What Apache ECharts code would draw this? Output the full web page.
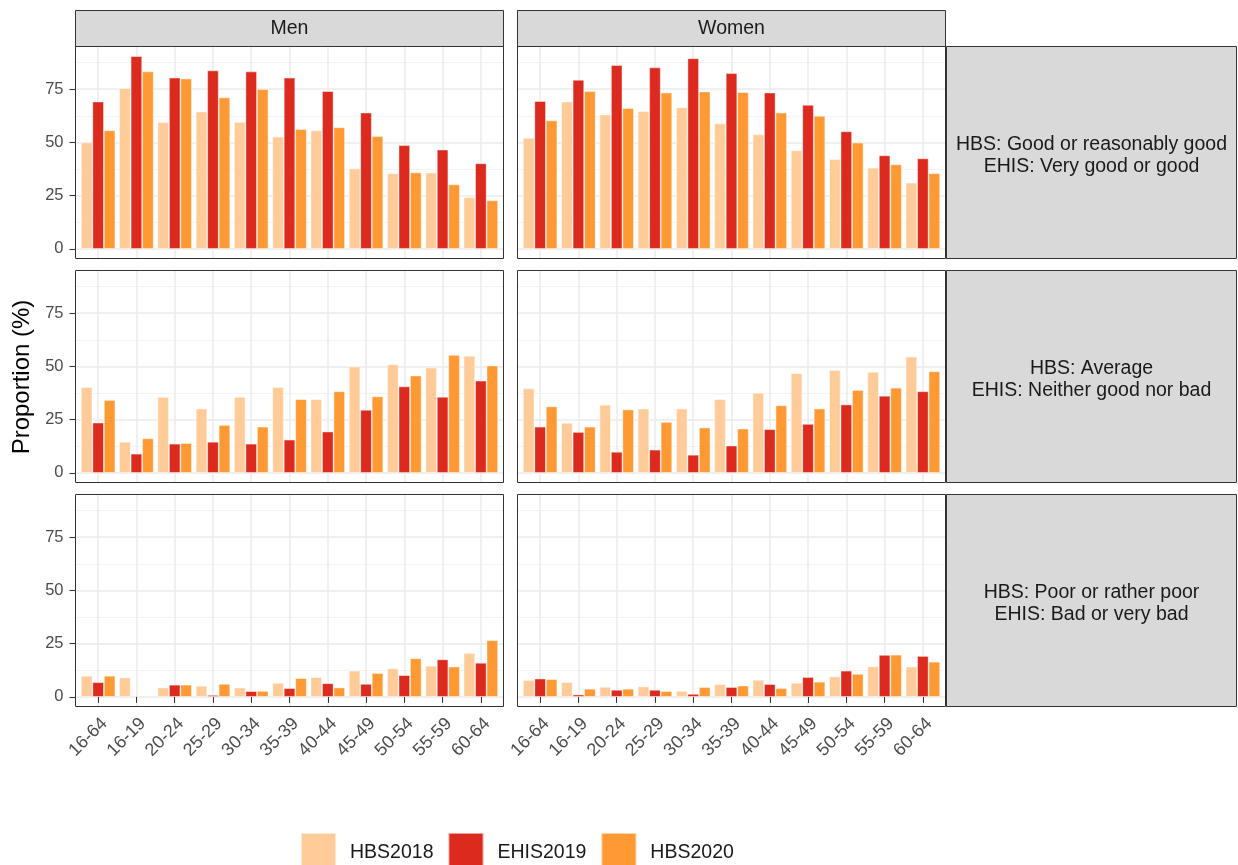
<!DOCTYPE html>
<html>
<head>
<meta charset="utf-8">
<script src="https://cdn.jsdelivr.net/npm/echarts@6/dist/echarts.min.js"></script>
<style>
  html, body { margin: 0; padding: 0; background: #fff; }
  #chart { width: 1238px; height: 865px; }
</style>
</head>
<body>
<div id="chart"></div>
<script>
// age groups on the x axis
const ageGroups = ['16-64', '16-19', '20-24', '25-29', '30-34', '35-39', '40-44', '45-49', '50-54', '55-59', '60-64'];
const seriesNames = ['HBS2018', 'EHIS2019', 'HBS2020'];
const sexes = ['Men', 'Women'];
const healthLevels = [
    'HBS: Good or reasonably good\nEHIS: Very good or good',
    'HBS: Average\nEHIS: Neither good nor bad',
    'HBS: Poor or rather poor\nEHIS: Bad or very bad'
];

// good
const menGood2018 = [50.0, 75.5, 59.5, 64.5, 59.6, 52.7, 55.7, 37.8, 35.5, 35.8, 24.3];
const menGood2019 = [69.2, 90.5, 80.4, 83.8, 83.3, 80.4, 74.1, 64.0, 48.7, 46.6, 40.2];
const menGood2020 = [55.7, 83.3, 80.0, 71.1, 75.0, 56.2, 57.1, 52.9, 35.9, 30.3, 22.8];
const womenGood2018 = [52.1, 69.2, 63.1, 64.7, 66.5, 58.9, 53.8, 46.3, 42.1, 38.1, 31.1];
const womenGood2019 = [69.4, 79.4, 86.3, 85.2, 89.5, 82.5, 73.4, 67.6, 55.2, 43.9, 42.5];
const womenGood2020 = [60.3, 74.1, 66.1, 73.4, 73.9, 73.6, 64.0, 62.5, 49.9, 39.7, 35.5];
// average
const menAvg2018 = [40.3, 14.6, 35.7, 30.2, 35.7, 40.3, 34.6, 49.9, 51.0, 49.4, 55.0];
const menAvg2019 = [23.6, 9.0, 13.7, 14.6, 13.7, 15.6, 19.4, 29.6, 40.6, 35.7, 43.3];
const menAvg2020 = [34.2, 16.2, 14.0, 22.5, 21.7, 34.6, 38.3, 35.9, 45.7, 55.4, 50.4];
const womenAvg2018 = [39.7, 23.5, 32.0, 30.2, 30.2, 34.6, 37.6, 46.9, 48.3, 47.4, 54.6];
const womenAvg2019 = [21.7, 19.2, 9.9, 10.9, 8.5, 12.8, 20.5, 23.0, 32.1, 36.2, 38.3];
const womenAvg2020 = [31.2, 21.7, 29.8, 23.9, 21.3, 20.8, 31.7, 30.2, 38.9, 40.0, 47.7];
// poor
const menPoor2018 = [9.9, 9.1, 4.4, 5.2, 4.4, 6.6, 9.3, 12.3, 13.4, 14.6, 20.6];
const menPoor2019 = [6.9, null, 5.7, 0.9, 2.7, 4.1, 6.4, 6.1, 10.2, 17.6, 16.0];
const menPoor2020 = [9.9, null, 5.7, 6.1, 2.8, 8.8, 4.4, 11.2, 18.1, 14.2, 26.6];
const womenPoor2018 = [7.9, 6.9, 4.7, 4.9, 2.8, 6.0, 8.0, 6.6, 9.6, 14.3, 14.2];
const womenPoor2019 = [8.6, 1.1, 3.3, 3.3, 1.4, 4.6, 6.0, 9.3, 12.3, 19.7, 19.2];
const womenPoor2020 = [8.3, 3.8, 3.8, 2.7, 4.6, 5.3, 4.1, 7.1, 10.8, 19.8, 16.5];

const panelData = [
    [[menGood2018, menGood2019, menGood2020], [womenGood2018, womenGood2019, womenGood2020]],
    [[menAvg2018, menAvg2019, menAvg2020], [womenAvg2018, womenAvg2019, womenAvg2020]],
    [[menPoor2018, menPoor2019, menPoor2020], [womenPoor2018, womenPoor2019, womenPoor2020]]
];
const colors = ['#FFCC99', '#DC2A1F', '#FF9933'];

const font = 'Liberation Sans';
const panelLeft = [75.5, 517.5], panelW = 428;
const rowTop = [46.5, 270.5, 494.5], panelH = 212;
const yMin = -4.525, yMax = 95.025;
const unit = panelH / (yMax - yMin);
const inset = panelW / 12.2 * 0.1;   // ggplot discrete expand 0.6 vs echarts 0.5

let grids = [], xAxes = [], yAxes = [], series = [], graphics = [];

function hiddenX(gi) {
    return {gridIndex: gi, type: 'value', show: false};
}

for (let r = 0; r < 3; r++) {
    for (let c = 0; c < 2; c++) {
        const left = panelLeft[c], top = rowTop[r];
        // major horizontal lines (0..75)
        let gi = grids.length;
        grids.push({left: left, top: top + (yMax - 75) * unit, width: panelW, height: 75 * unit});
        xAxes.push(hiddenX(gi));
        yAxes.push({
            gridIndex: gi, type: 'value', min: 0, max: 75, interval: 25,
            axisLine: {show: false},
            axisTick: {show: c === 0, length: 6, lineStyle: {color: '#333333', width: 1}},
            axisLabel: {show: c === 0, color: '#4D4D4D', fontSize: 16.5, fontFamily: font, margin: 12},
            splitLine: {show: true, lineStyle: {color: '#EBEBEB', width: 1.5}}
        });
        // minor horizontal lines (12.5..87.5)
        gi = grids.length;
        grids.push({left: left, top: top + (yMax - 87.5) * unit, width: panelW, height: 75 * unit});
        xAxes.push(hiddenX(gi));
        yAxes.push({
            gridIndex: gi, type: 'value', min: 0, max: 75, interval: 25,
            axisLine: {show: false}, axisTick: {show: false}, axisLabel: {show: false},
            splitLine: {show: true, lineStyle: {color: '#F3F3F3', width: 1}}
        });
        // bars
        gi = grids.length;
        grids.push({left: left + inset, top: top, width: panelW - 2 * inset, height: panelH});
        xAxes.push({
            gridIndex: gi, type: 'category', data: ageGroups, boundaryGap: true,
            axisLine: {show: false},
            axisTick: {show: r === 2, alignWithLabel: true, length: 6, lineStyle: {color: '#333333', width: 1}},
            axisLabel: {show: r === 2, interval: 0, rotate: 45, align: 'right', verticalAlign: 'top',
                color: '#4D4D4D', fontSize: 18, fontFamily: font, margin: 8},
            splitLine: {show: true, alignWithLabel: true, lineStyle: {color: '#EBEBEB', width: 1.5}}
        });
        yAxes.push({gridIndex: gi, type: 'value', min: yMin, max: yMax, show: false, splitLine: {show: false}});
        panelData[r][c].forEach((vals, k) => {
            series.push({
                name: seriesNames[k], type: 'bar',
                xAxisIndex: gi, yAxisIndex: gi,
                data: vals,
                barGap: '0%', barCategoryGap: '10%',
                itemStyle: {color: colors[k], borderColor: 'rgba(255,255,255,0.55)', borderWidth: 0.8},
                emphasis: {disabled: true},
                z: 3
            });
        });
        // panel border
        graphics.push({
            type: 'rect', z: 100,
            shape: {x: left, y: top, width: panelW, height: panelH},
            style: {fill: null, stroke: '#333333', lineWidth: 1}
        });
    }
    // right strip
    graphics.push({
        type: 'rect', z: 90,
        shape: {x: 946.5, y: rowTop[r], width: 290, height: panelH},
        style: {fill: '#D9D9D9', stroke: '#333333', lineWidth: 1}
    });
    graphics.push({
        type: 'text', z: 101, x: 1091.5, y: rowTop[r] + panelH / 2 + 3,
        style: {text: healthLevels[r], font: '19.5px "' + font + '"', fill: '#1A1A1A',
            textAlign: 'center', textVerticalAlign: 'middle', lineHeight: 21.5}
    });
}

// top strips
sexes.forEach((s, c) => {
    graphics.push({
        type: 'rect', z: 90,
        shape: {x: panelLeft[c], y: 10.5, width: panelW, height: 36},
        style: {fill: '#D9D9D9', stroke: '#333333', lineWidth: 1}
    });
    graphics.push({
        type: 'text', z: 101, x: panelLeft[c] + panelW / 2, y: 29,
        style: {text: s, font: '19.5px "' + font + '"', fill: '#1A1A1A', textAlign: 'center', textVerticalAlign: 'middle'}
    });
});

// y axis title
graphics.push({
    type: 'text', z: 101, x: 22, y: 377, rotation: Math.PI / 2,
    style: {text: 'Proportion (%)', font: '24px "' + font + '"', fill: '#000000', textAlign: 'center', textVerticalAlign: 'middle'}
});

let chart = echarts.init(document.getElementById('chart'), null, {renderer: 'canvas'});
chart.setOption({
    animation: false,
    backgroundColor: '#ffffff',
    grid: grids,
    xAxis: xAxes,
    yAxis: yAxes,
    series: series,
    legend: {
        data: seriesNames,
        left: 295, top: 827,
        icon: 'rect', itemWidth: 35, itemHeight: 40, itemGap: 14,
        textStyle: {fontSize: 19.5, fontFamily: font, color: '#1A1A1A', padding: [0, 0, 0, 9]}
    },
    graphic: graphics
});
</script>
</body>
</html>
